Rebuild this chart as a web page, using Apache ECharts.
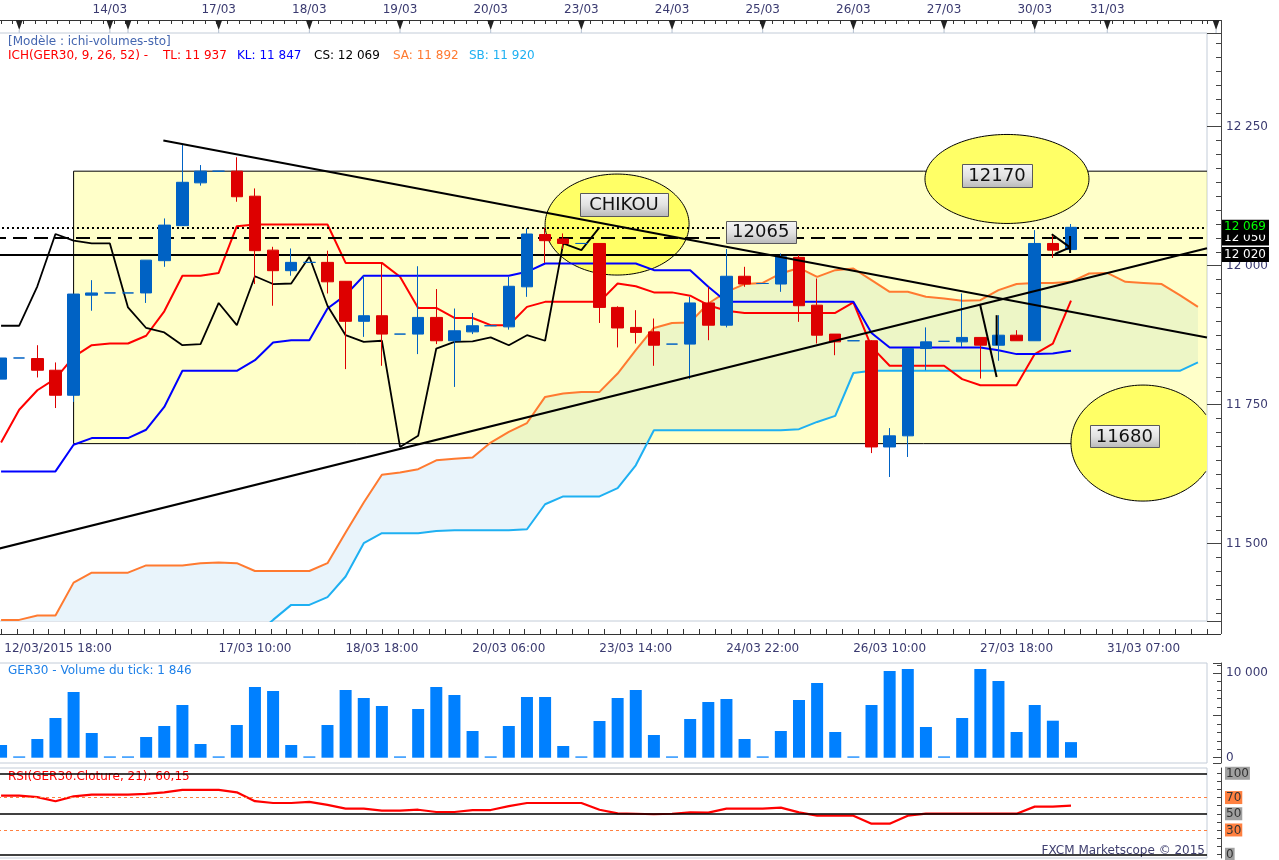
<!DOCTYPE html>
<html>
<head>
<meta charset="utf-8">
<script src="https://cdn.jsdelivr.net/npm/echarts@6.0.0/dist/echarts.min.js"></script>
<style>
html,body{margin:0;padding:0;background:#fff;}
#chart{width:1279px;height:860px;}
</style>
</head>
<body>
<div id="chart"></div>
<script>
// ================= DATA =================
const opens  = [11796,11834,11833,11812,11767,11947,11951,11951,11951,12009,12072,12149,12170,12170,12125,12028,11991,12006,12006,11972,11900,11910,11877,11877,11907,11865,11881,11892,11890,11962,12056,12048,12040,12040,11925,11889,11881,11859,11859,11933,11893,11981,11968,11967,12015,11929,11877,11865,11865,11674,11694,11851,11864,11863,11871,11857,11875,11865,12040,12029];
const closes = [11834,11834,11812,11767,11949,11951,11951,11951,12010,12073,12150,12170,12170,12124,12027,11991,12006,12006,11971,11900,11910,11877,11877,11907,11865,11883,11892,11892,11963,12057,12045,12040,12040,11925,11888,11880,11857,11859,11933,11893,11981,11967,11968,12016,11928,11875,11863,11865,11674,11694,11851,11863,11864,11871,11857,11875,11865,12040,12028,12069];
const lows   = [11796,11834,11799,11744,11755,11919,11951,11951,11933,11998,12072,12144,12170,12115,11967,11928,11982,12006,11950,11814,11872,11820,11877,11841,11859,11782,11877,11892,11885,11944,12005,12030,12040,11897,11853,11860,11820,11859,11796,11866,11889,11962,11968,11953,11899,11860,11839,11865,11663,11620,11656,11812,11864,11854,11797,11829,11865,11865,12014,12029];
const highs  = [11834,11834,11857,11826,11949,11974,11951,11951,12010,12085,12217,12181,12170,12195,12139,12034,12031,12006,12027,11972,11982,12005,11877,11999,11958,11923,11915,11892,11980,12067,12068,12058,12040,12040,11927,11920,11905,11859,11944,11962,12030,11998,11968,12022,12019,11977,11877,11865,11866,11708,11851,11889,11864,11950,11871,11911,11884,12064,12055,12075];

const tenkan = [11682,11741,11776,11797,11836,11857,11860,11860,11874,11918,11982,11982,11987,12071,12074,12074,12074,12074,12074,12005,12005,12005,11980,11924,11924,11906,11906,11893,11893,11926,11935,11935,11935,11935,11968,11963,11952,11952,11946,11929,11919,11915,11915,11915,11915,11915,11915,11934,11854,11820,11820,11820,11820,11796,11785,11785,11785,11841,11860,11937];
const kijun  = [11630,11630,11630,11630,11678,11690,11690,11690,11705,11746,11811,11811,11811,11811,11830,11862,11866,11866,11923,11947,11982,11982,11982,11982,11982,11982,11982,11982,11982,11989,12004,12004,12004,12004,12004,12004,11992,11992,11992,11962,11935,11935,11935,11935,11935,11935,11935,11935,11879,11853,11853,11853,11853,11853,11853,11848,11841,11841,11842,11847];
const senkouA = [11363,11363,11371,11371,11430,11448,11448,11448,11461,11461,11461,11465,11466,11465,11451,11451,11451,11451,11465,11520,11574,11624,11628,11634,11650,11653,11655,11682,11701,11717,11764,11770,11773,11773,11806,11848,11888,11897,11898,11932,11953,11967,11969,11986,11996,11980,11992,11995,11974,11953,11953,11944,11941,11937,11938,11956,11967,11969,11969,11971,11986,11987,11971,11969,11967,11947,11926];
const senkouB = [11300,11300,11300,11300,11300,11300,11300,11300,11300,11300,11300,11300,11300,11300,11335,11363,11390,11390,11404,11441,11501,11519,11519,11519,11523,11524,11524,11524,11524,11526,11571,11585,11585,11585,11600,11641,11704,11704,11704,11704,11704,11704,11704,11704,11706,11719,11730,11807,11811,11811,11811,11811,11811,11811,11811,11811,11811,11811,11811,11811,11811,11811,11811,11811,11811,11811,11826];

const volumes = [1505,150,2216,4704,7784,2927,150,150,2453,3757,6244,1624,150,3875,8376,7903,1505,150,3875,8021,7073,6126,150,5771,8376,7429,3164,150,3757,7192,7192,1387,150,4349,7073,8021,2690,150,4586,6600,6955,2216,150,3164,6837,8850,3046,150,6244,10273,10510,3638,150,4704,10510,9087,3046,6244,4384,1846];
const rsi = [72.3,72.3,70.5,65.5,71.5,73.6,73.6,73.6,74.5,76.5,79.4,79.4,79.4,76.5,65.5,63.3,63.3,64.6,61,56.3,56.3,53.9,53.9,55,52.2,52.2,54.6,54.6,59.4,63.3,63.3,63.3,63.3,55,50.5,50,49.4,50,51.8,51.5,56.3,56.3,56.3,57.6,51.8,47.7,47.7,47.7,37.8,37.8,47.7,50.1,50.1,50.1,50.1,50.1,50.1,58.8,58.8,60.15];

const bottomLabelIdx  = [0,14,21,28,35,42,49,56,63];
const bottomLabelText = ['12/03/2015 18:00','17/03 10:00','18/03 18:00','20/03 06:00','23/03 14:00','24/03 22:00','26/03 10:00','27/03 18:00','31/03 07:00'];
const dayIdx  = [1,6,7,12,17,22,27,32,37,42,47,52,57,61,67];
const dayText = ['','14/03','','17/03','18/03','19/03','20/03','23/03','24/03','25/03','26/03','27/03','30/03','31/03',''];

const levelValues = [12050,12069,12020];
const levelTexts  = ['12 050','12 069','12 020'];
const rsiLevels   = [100,70,50,30,0];

const boxRange = [4, 66.5, 12170, 11680];           // from idx, to idx, top, bottom
const trendSegments = [
  [[8.95,12225],[66.5,11871]],
  [[-0.5,11488],[66.5,12031.5]],
  [[53.98,11931],[54.9,11800]],
  [[54.9,11911],[54.9,11857]],
  [[57.94,12056.5],[58.95,12033]],
  [[58.11,12021],[58.95,12033]],
  [[58.95,12053.4],[58.95,12022.8]]
];
const ellipseCenters = [[33.97,12074],[55.47,12156],[62.97,11681]];
const noteAnchors = [[34.35,12110],[54.92,12163],[61.94,11694],[41.89,12061]];
const noteTexts   = ['CHIKOU','12170','11680','12065'];

// ================= STYLE =================
const FONT = '"DejaVu Sans", Verdana, sans-serif';
const AXC = '#3A3A70';
const FRAME = '#C3CCD8';
const GL = -8, GW = 1215;
const ellipseSize = [[72,50.5],[82,44.5],[72,58]];
const noteSize = [[88,23],[70,23],[69,22],[70,22]];
const N_SLOTS = 67;
const cats = Array.from({length: N_SLOTS}, (_, i) => 'p' + i);

const candleData = opens.map((o, i) => [o, closes[i], lows[i], highs[i]]);
const cloudDiff = senkouA.map((a, i) => +(a - senkouB[i]).toFixed(2));
const chikou = closes.slice(26);

function spaced(v){ return String(Math.round(v)).replace(/\B(?=(\d{3})+(?!\d))/g, ' '); }

const chart = echarts.init(document.getElementById('chart'), null, {renderer: 'canvas', width: 1279, height: 860});

function renderBox(params, api){
  const p0 = api.coord([api.value(0), api.value(2)]);
  const p1 = api.coord([api.value(1), api.value(3)]);
  const cs = params.coordSys;
  const xr = Math.min(p1[0], cs.x + cs.width);
  return {type:'group', children:[
    {type:'rect', shape:{x:p0[0], y:p0[1], width:xr-p0[0], height:p1[1]-p0[1]}, style:{fill:'rgba(255,255,0,0.21)'}},
    {type:'polyline', shape:{points:[[xr,p0[1]],[p0[0],p0[1]],[p0[0],p1[1]],[xr,p1[1]]]}, style:{stroke:'#000', lineWidth:1, fill:null}}
  ]};
}
function renderEllipse(params, api){
  const c = api.coord([api.value(0), api.value(1)]);
  const sz = ellipseSize[params.dataIndex];
  const cs = params.coordSys;
  const xmin = cs.x, xmax = cs.x + cs.width;
  const pts = [], segs = [];
  let cur = [];
  for (let k = 0; k <= 160; k++){
    const t = k / 160 * Math.PI * 2 + Math.PI;
    const x = c[0] + sz[0] * Math.cos(t), y = c[1] + sz[1] * Math.sin(t);
    pts.push([Math.min(Math.max(x, xmin), xmax), y]);
    if (x <= xmax && x >= xmin) cur.push([x, y]); else { if (cur.length > 1) segs.push(cur); cur = []; }
  }
  if (cur.length > 1) segs.push(cur);
  const children = [{type:'polygon', shape:{points:pts}, style:{fill:'#FFFF66'}}];
  segs.forEach(s => children.push({type:'polyline', shape:{points:s}, style:{stroke:'#000', lineWidth:1, fill:null}}));
  return {type:'group', children};
}
function renderNote(params, api){
  const c = api.coord([api.value(0), api.value(1)]);
  const sz = noteSize[params.dataIndex];
  return {type:'group', children:[
    {type:'rect', shape:{x:Math.round(c[0]-sz[0]/2)+0.5, y:Math.round(c[1]-sz[1]/2)+0.5, width:sz[0], height:sz[1]},
     style:{fill:{type:'linear', x:0, y:0, x2:0, y2:1, colorStops:[{offset:0,color:'#F6F6F6'},{offset:0.5,color:'#E2E2E2'},{offset:1,color:'#B8B8B8'}]}, stroke:'#5A5A5A', lineWidth:1}},
    {type:'text', style:{text:noteTexts[params.dataIndex], x:c[0], y:c[1]+1, align:'center', verticalAlign:'middle', font:'18px ' + FONT, fill:'#111'}}
  ]};
}
function renderDays(params, api){
  const x = api.coord([api.value(0), 12000])[0];
  const cs = params.coordSys;
  const top = cs.y;
  const ay = top - 13;
  const children = [
    {type:'polygon', shape:{points:[[x-3.5, ay],[x+3.5, ay],[x, ay+10]]}, style:{fill:'#222'}},
    {type:'line', shape:{x1:x, y1:ay+10, x2:x, y2:top}, style:{stroke:'#B4C0D0', lineWidth:1}},
    {type:'text', style:{text:dayText[params.dataIndex], x:x, y:ay-10, align:'center', verticalAlign:'middle', font:'12px ' + FONT, fill:AXC}}
  ];
  if (params.dataIndex === 0) {
    const r = cs.x + cs.width, b = cs.y + cs.height + 13, ax = r + 14;
    children.push({type:'line', shape:{x1:r, y1:ay+0.5, x2:ax, y2:ay+0.5}, style:{stroke:'#333', lineWidth:1}});
    children.push({type:'line', shape:{x1:r, y1:b+0.5, x2:ax, y2:b+0.5}, style:{stroke:'#333', lineWidth:1}});
    children.push({type:'line', shape:{x1:ax+0.5, y1:ay, x2:ax+0.5, y2:b}, style:{stroke:'#444', lineWidth:1}});
  }
  return {type:'group', children};
}

const trendSeries = trendSegments.map(seg => ({
  type:'line', xAxisIndex:1, yAxisIndex:0, data:seg, symbol:'none', silent:true, z:6,
  lineStyle:{color:'#000', width:2}, animation:false
}));

const levelStyles = [
  {type:[14,7], width:2, color:'#000'},
  {type:[2,3], width:2, color:'#000'},
  {type:'solid', width:2, color:'#000'}
];
const levelLabelColors = ['#FFFFFF','#00FF00','#FFFFFF'];
const noZero = {onZero:false};

const option = {
  animation:false,
  backgroundColor:'#fff',
  grid:[
    {left:GL, width:GW, top:33, height:588, show:true, borderColor:FRAME, borderWidth:1, outerBoundsMode:'none', containLabel:false},
    {left:GL, width:GW, top:663, height:100, show:true, borderColor:FRAME, borderWidth:1, outerBoundsMode:'none', containLabel:false},
    {left:GL, width:GW, top:768, height:90, show:true, borderColor:FRAME, borderWidth:1, outerBoundsMode:'none', containLabel:false}
  ],
  xAxis:[
    {type:'category', gridIndex:0, data:cats, boundaryGap:true, position:'bottom', offset:13,
     axisLine:{show:false, onZero:false}, axisTick:{show:false}, splitLine:{show:false},
     axisLabel:{show:true, interval:0, margin:9, hideOverlap:false, color:AXC, fontFamily:FONT, fontSize:12,
       formatter:(v, idx) => { const k = bottomLabelIdx.indexOf(idx); if (k < 0) return ''; return k === 0 ? '{f|' + bottomLabelText[k] + '}' : bottomLabelText[k]; },
       rich:{f:{padding:[0,0,0,114], color:AXC, fontFamily:FONT, fontSize:12}}}},
    {type:'value', gridIndex:0, min:-0.5, max:66.5, show:false, axisLine:noZero},
    {type:'value', gridIndex:0, min:-0.5, max:66.5, position:'bottom', offset:13, minInterval:0.875, maxInterval:0.875,
     axisLine:{show:true, onZero:false, lineStyle:{color:'#333', width:1}}, axisTick:{show:true, inside:true, length:5, lineStyle:{color:'#333'}},
     axisLabel:{show:false}, splitLine:{show:false}},
    {type:'value', gridIndex:0, min:-0.5, max:66.5, position:'top', offset:13, minInterval:0.625, maxInterval:0.625,
     axisLine:{show:true, onZero:false, lineStyle:{color:'#333', width:1}}, axisTick:{show:true, inside:true, length:4, lineStyle:{color:'#333'}},
     axisLabel:{show:false}, splitLine:{show:false}},
    {type:'category', gridIndex:1, data:cats, boundaryGap:true, show:false, axisLine:noZero},
    {type:'category', gridIndex:2, data:cats, boundaryGap:true, show:false, axisLine:noZero}
  ],
  yAxis:[
    {type:'value', gridIndex:0, position:'right', offset:14, min:11361, max:12418.5, minInterval:250, maxInterval:250, scale:true,
     axisLine:{show:true, onZero:false, lineStyle:{color:'#444'}}, axisTick:{show:true, inside:true, length:14, lineStyle:{color:'#444'}},
     minorTick:{show:true, splitNumber:10, length:5, lineStyle:{color:'#444'}},
     splitLine:{show:false}, minorSplitLine:{show:false},
     axisLabel:{show:true, margin:5, showMinLabel:false, showMaxLabel:false, color:AXC, fontFamily:FONT, fontSize:12,
       formatter:v => (Math.abs(v % 250) < 1e-6 ? spaced(v) : '')}},
    {type:'value', gridIndex:1, position:'right', offset:14, min:-628, max:11220, minInterval:5000, maxInterval:5000, scale:true,
     axisLine:{show:true, onZero:false, lineStyle:{color:'#444'}}, axisTick:{show:true, inside:true, length:8, lineStyle:{color:'#444'}},
     minorTick:{show:true, splitNumber:5, length:4, lineStyle:{color:'#444'}},
     splitLine:{show:false},
     axisLabel:{show:true, margin:5, showMinLabel:false, showMaxLabel:false, color:AXC, fontFamily:FONT, fontSize:12,
       formatter:v => (v === 0 || v === 10000 ? spaced(v) : '')}},
    {type:'value', gridIndex:2, position:'right', offset:14, min:-4.6, max:106.5, minInterval:10, maxInterval:10, scale:true,
     axisLine:{show:true, onZero:false, lineStyle:{color:'#444'}}, axisTick:{show:true, inside:true, length:4, lineStyle:{color:'#444'}},
     splitLine:{show:false},
     axisLabel:{show:true, margin:4, showMinLabel:false, showMaxLabel:false, fontFamily:FONT, fontSize:12,
       formatter:v => { const r = Math.round(v); if (rsiLevels.indexOf(r) < 0 || Math.abs(v - r) > 1e-6) return ''; return (r === 70 || r === 30 ? '{o|' : '{g|') + r + '}'; },
       rich:{g:{backgroundColor:'#A0A0A0', color:'#333', padding:[1,1,0,1], fontFamily:FONT, fontSize:12},
             o:{backgroundColor:'#FF8040', color:'#333', padding:[1,1,0,1], fontFamily:FONT, fontSize:12}}}}
  ],
  series:[
    {type:'line', name:'kumoBase', xAxisIndex:0, yAxisIndex:0, data:senkouB, stack:'kumo', symbol:'none', silent:true, z:1,
     lineStyle:{width:0, opacity:0}},
    {type:'line', name:'kumo', xAxisIndex:0, yAxisIndex:0, data:cloudDiff, stack:'kumo', symbol:'none', silent:true, z:1,
     lineStyle:{width:0, opacity:0}, areaStyle:{color:'#E9F4FB', opacity:1}},
    {type:'custom', name:'box', xAxisIndex:1, yAxisIndex:0, data:[boxRange], renderItem:renderBox, z:2, silent:true},
    {type:'custom', name:'ellipses', xAxisIndex:1, yAxisIndex:0, data:ellipseCenters, renderItem:renderEllipse, z:3, silent:true},
    {type:'line', name:'SA', xAxisIndex:0, yAxisIndex:0, data:senkouA, symbol:'none', z:4, lineStyle:{color:'#FF7A30', width:2}},
    {type:'line', name:'SB', xAxisIndex:0, yAxisIndex:0, data:senkouB, symbol:'none', z:4, lineStyle:{color:'#1EB0F2', width:2}},
    {type:'line', name:'TL', xAxisIndex:0, yAxisIndex:0, data:tenkan, symbol:'none', z:4, lineStyle:{color:'#FF0000', width:2}},
    {type:'line', name:'KL', xAxisIndex:0, yAxisIndex:0, data:kijun, symbol:'none', z:4, lineStyle:{color:'#0000FF', width:2}},
    {type:'line', name:'CS', xAxisIndex:0, yAxisIndex:0, data:chikou, symbol:'none', z:4, lineStyle:{color:'#000', width:1.8}},
    {type:'candlestick', name:'GER30', xAxisIndex:0, yAxisIndex:0, data:candleData, barWidth:12, z:5,
     itemStyle:{color:'#0062C4', color0:'#DD0000', borderColor:'#0062C4', borderColor0:'#DD0000', borderWidth:1}},
    ...trendSeries,
    {type:'line', name:'levels', xAxisIndex:1, yAxisIndex:0, data:[], z:6, silent:true,
     markLine:{silent:true, symbol:['none','none'], animation:false,
       data: levelValues.map((v, i) => ({yAxis:v, lineStyle:levelStyles[i],
         label:{show:true, position:'end', distance:15, formatter:levelTexts[i], color:levelLabelColors[i], backgroundColor:'#000',
                padding:[2,3,1,2], fontFamily:FONT, fontSize:12}}))}},
    {type:'custom', name:'notes', xAxisIndex:1, yAxisIndex:0, data:noteAnchors, renderItem:renderNote, z:7, silent:true},
    {type:'custom', name:'days', xAxisIndex:1, yAxisIndex:0, data:dayIdx.map(d => [d, 12000]), renderItem:renderDays, z:7, silent:true, clip:false},
    {type:'bar', name:'Volume', xAxisIndex:4, yAxisIndex:1, data:volumes, barWidth:12, itemStyle:{color:'#0080FF'}, silent:true},
    {type:'line', name:'RSI', xAxisIndex:5, yAxisIndex:2, data:rsi, symbol:'none', z:4, lineStyle:{color:'#FF0000', width:2.2},
     markLine:{silent:true, symbol:['none','none'], animation:false, label:{show:false},
       data: rsiLevels.map(v => ({yAxis:v, lineStyle: (v === 70 || v === 30) ? {color:'#FF8040', type:[3,3], width:1} : {color:'#000', type:'solid', width:1.5}}))}}
  ],
  graphic:[
    {type:'text', left:8, top:36, silent:true, style:{text:'[Modèle : ichi-volumes-sto]', fill:'#4466B0', font:'12px ' + FONT}},
    {type:'text', left:8, top:50, silent:true, style:{text:'ICH(GER30, 9, 26, 52) - ', fill:'#FF0000', font:'12px ' + FONT}},
    {type:'text', left:163, top:50, silent:true, style:{text:'TL: 11 937', fill:'#FF0000', font:'12px ' + FONT}},
    {type:'text', left:237, top:50, silent:true, style:{text:'KL: 11 847', fill:'#0000FF', font:'12px ' + FONT}},
    {type:'text', left:314, top:50, silent:true, style:{text:'CS: 12 069', fill:'#000000', font:'12px ' + FONT}},
    {type:'text', left:393, top:50, silent:true, style:{text:'SA: 11 892', fill:'#FF7A30', font:'12px ' + FONT}},
    {type:'text', left:469, top:50, silent:true, style:{text:'SB: 11 920', fill:'#1EB0F2', font:'12px ' + FONT}},
    {type:'text', left:8, top:665, silent:true, style:{text:'GER30 - Volume du tick: 1 846', fill:'#1E80E8', font:'12px ' + FONT}},
    {type:'text', left:8, top:771, silent:true, style:{text:'RSI(GER30.Cloture, 21): 60,15', fill:'#FF0000', font:'12px ' + FONT}},
    {type:'text', right:74, top:845, silent:true, style:{text:'FXCM Marketscope © 2015', fill:'#404070', font:'12px ' + FONT}}
  ]
};
chart.setOption(option);
</script>
</body>
</html>
